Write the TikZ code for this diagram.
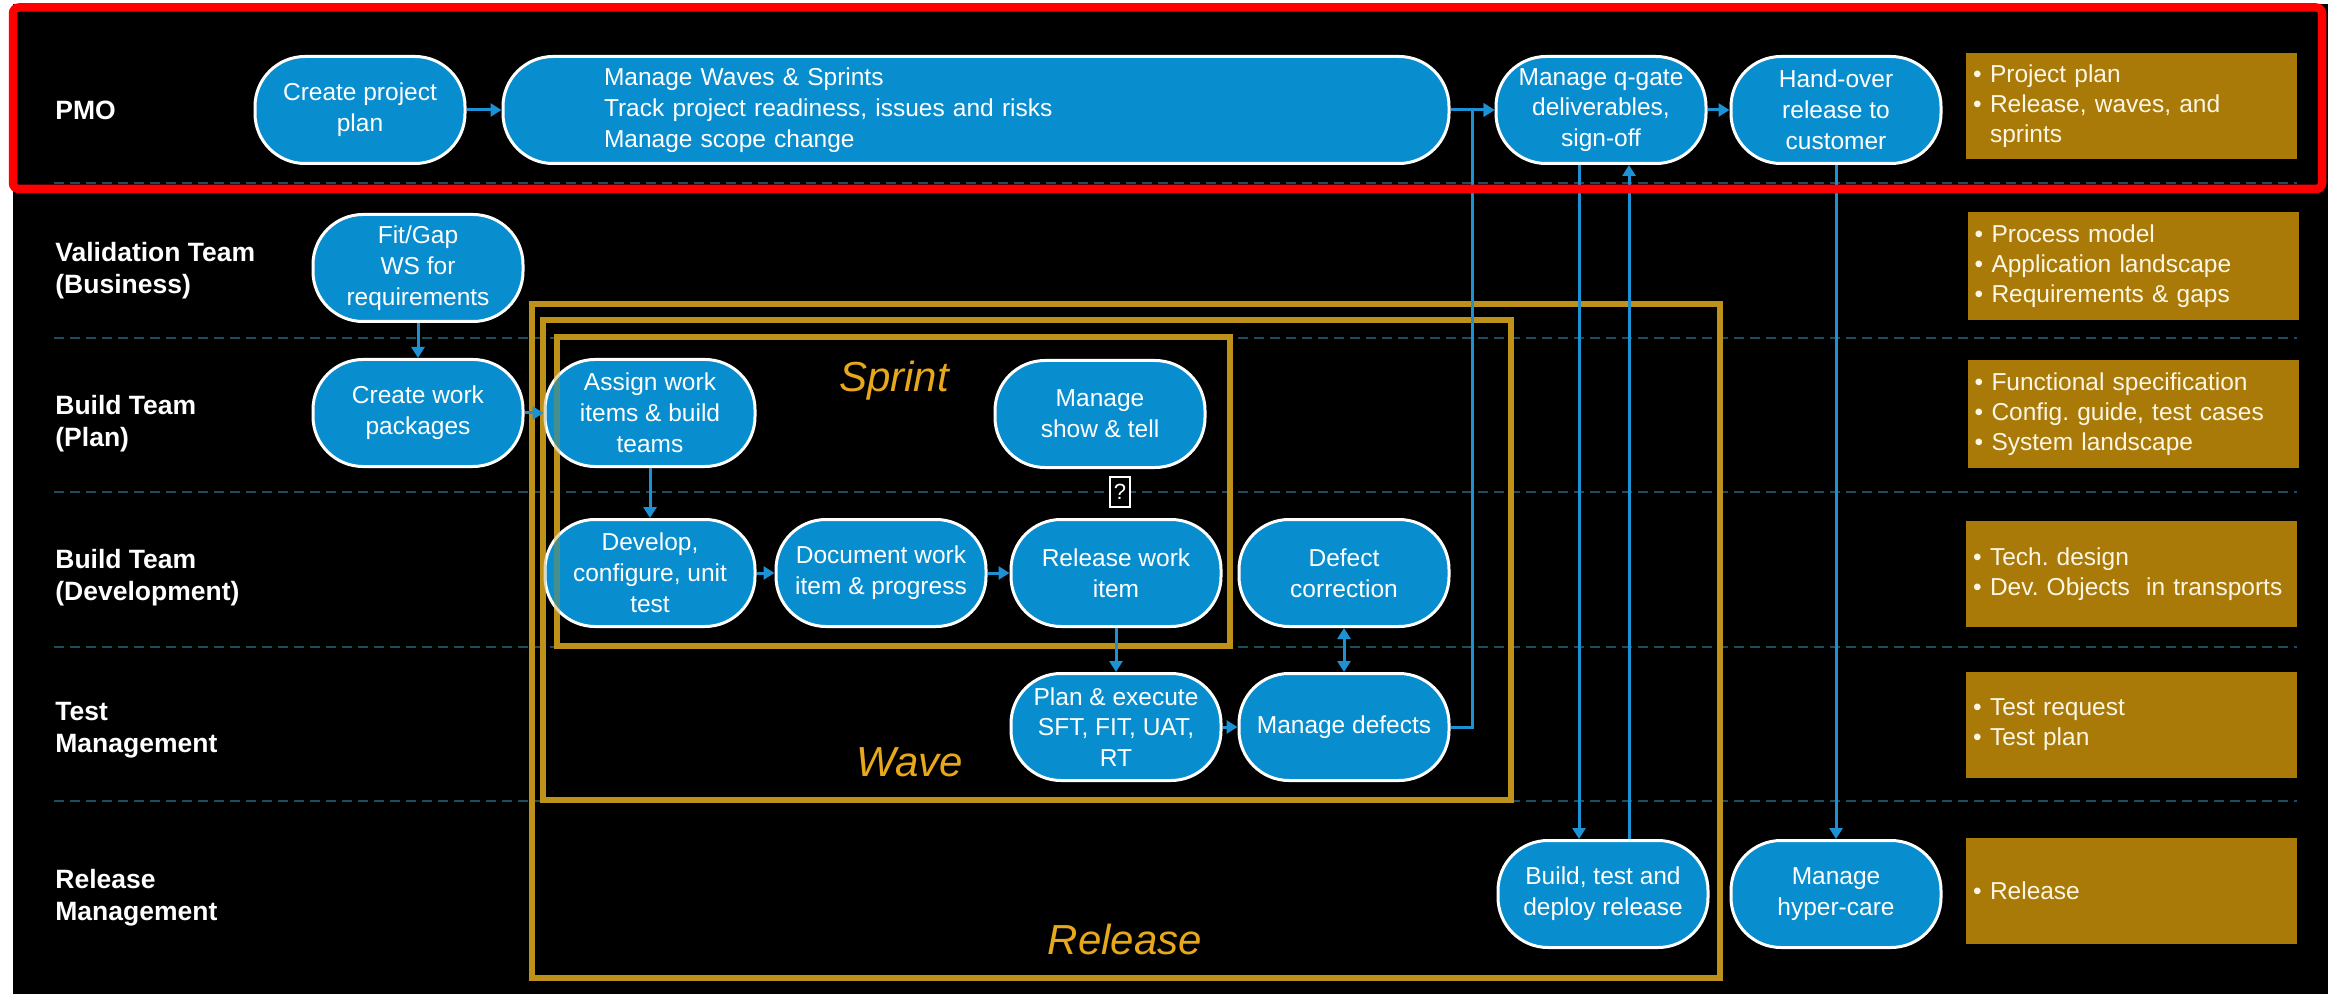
\documentclass[tikz,border=0pt]{standalone}
\usepackage{fontspec}
\setmainfont{Liberation Sans}
\usetikzlibrary{arrows.meta,calc}
\definecolor{nodeblue}{RGB}{8,141,207}
\definecolor{linkblue}{RGB}{28,145,212}
\definecolor{framegold}{RGB}{190,145,25}
\definecolor{labelgold}{RGB}{232,168,28}
\definecolor{boxtan}{RGB}{170,122,8}
\definecolor{tantext}{RGB}{252,246,228}
\definecolor{lanedash}{RGB}{28,78,98}
\newcommand\tbul{\makebox[8.5pt][l]{•}}
\frenchspacing
\begin{document}
\begin{tikzpicture}[x=0.5pt,y=-0.5pt,
  proc/.style={draw=white, line width=1.5pt, fill=nodeblue, rounded corners=25pt,
    minimum width=105pt, minimum height=53.5pt, inner sep=0pt, align=center,
    text=white, font=\fontsize{12.25pt}{15.4pt}\selectfont},
  lane/.style={anchor=west, align=left, text=white, inner sep=0pt,
    font=\bfseries\fontsize{13.25pt}{16pt}\selectfont},
  deliv/.style={fill=boxtan, text=tantext, minimum width=165.5pt, text width=158.5pt,
    inner xsep=3.5pt, inner ysep=0pt, align=left,
    font=\fontsize{12.25pt}{15pt}\selectfont},
  arr/.style={draw=linkblue, line width=1.5pt, -{Triangle[length=5.5pt,width=6.5pt]}},
  dbl/.style={draw=linkblue, line width=1.5pt, {Triangle[length=5.5pt,width=6.5pt]}-{Triangle[length=5.5pt,width=6.5pt]}},
  frame/.style={draw=framegold, line width=3.25pt},
  lbl/.style={text=labelgold, inner sep=0pt, font=\itshape\fontsize{21pt}{24pt}\selectfont},
  divider/.style={draw=lanedash, line width=1.2pt, dash pattern=on 5pt off 3pt}
]
% background
\fill[white] (0,0) rectangle (2328,994);
\fill[black] (13,4) rectangle (2328,994);
\useasboundingbox (0,0) rectangle (2328,994);

% lane dividers
\foreach \yy in {183,338,492,647,801} {\draw[divider] (54,\yy) -- (2297,\yy);}

% frames (below nodes)
\draw[frame] (532,304) rectangle (1720,978);
\draw[frame] (543,320) rectangle (1511,800);
\draw[frame] (557,337) rectangle (1230,646);

% lane labels
\node[lane] (lpmo) at (55,110) {PMO};
\node[lane] (lval) at (55,271) {Validation Team\\(Business)};
\node[lane] (lplan) at (55,424) {Build Team\\(Plan)};
\node[lane] (ldev) at (55,578) {Build Team\\(Development)};
\node[lane] (ltest) at (55,730) {Test\\Management};
\node[lane] (lrel) at (55,898) {Release\\Management};

% process nodes
\node[proc] (create) at (360,110) {Create project\\plan};
\node[proc, minimum width=473pt, text width=372pt, inner xsep=50.5pt, align=left] (waves) at (976,110)
  {Manage Waves \& Sprints\\Track project readiness, issues and risks\\Manage scope change};
\node[proc] (qgate) at (1601,110) {Manage q-gate\\deliverables,\\sign-off};
\node[proc] (handover) at (1836,110) {Hand-over\\release to\\customer};
\node[proc] (fitgap) at (418,268) {Fit/Gap\\WS for\\requirements};
\node[proc] (workpkg) at (418,413) {Create work\\packages};
\node[proc] (assign) at (650,413) {Assign work\\items \& build\\teams};
\node[proc] (showtell) at (1100,414) {Manage\\show \& tell};
\node[proc] (develop) at (650,573) {Develop,\\configure, unit\\test};
\node[proc] (document) at (881,573) {Document work\\item \& progress};
\node[proc] (releasewi) at (1116,573) {Release work\\item};
\node[proc] (defectcorr) at (1344,573) {Defect\\correction};
\node[proc] (plantest) at (1116,727) {Plan \& execute\\SFT, FIT, UAT,\\RT};
\node[proc] (defects) at (1344,727) {Manage defects};
\node[proc] (build) at (1603,894) {Build, test and\\deploy release};
\node[proc] (hypercare) at (1836,894) {Manage\\hyper-care};

% missing glyph box
\node[draw=white, fill=black, line width=0.8pt, minimum width=10pt, minimum height=15pt,
  inner sep=0pt, text=white, font=\fontsize{11pt}{12pt}\selectfont] (glyph) at (1120,492) {?};

% faint frame overlay on nodes
\draw[frame, draw opacity=0.35] (532,304) rectangle (1720,978);
\draw[frame, draw opacity=0.35] (543,320) rectangle (1511,800);
\draw[frame, draw opacity=0.35] (557,337) rectangle (1230,646);

% frame labels
\node[lbl] (sprintlbl) at (894,381) {Sprint};
\node[lbl] (wavelbl) at (910,762) {Wave};
\node[lbl] (releaselbl) at (1125,939) {Release};

% deliverable boxes
\node[deliv, minimum height=53pt] (d1) at (2131.5,106) {\raisebox{0pt}[\height][\depth]{}\tbul Project plan\\\tbul Release, waves, and\\\hspace*{8.5pt}sprints};
\node[deliv, minimum height=54pt] (d2) at (2133,266) {\tbul Process model\\\tbul Application landscape\\\tbul Requirements \& gaps};
\node[deliv, minimum height=54pt] (d3) at (2133,414) {\tbul Functional specification\\\tbul Config. guide, test cases\\\tbul System landscape};
\node[deliv, minimum height=53pt] (d4) at (2131.5,574) {\tbul Tech. design\\\tbul Dev. Objects\ \ in transports};
\node[deliv, minimum height=53pt] (d5) at (2131.5,725) {\tbul Test request\\\tbul Test plan};
\node[deliv, minimum height=53pt] (d6) at (2131.5,890.5) {\tbul Release};

% connectors
\draw[arr] (create) -- (waves);
\draw[arr] (waves) -- (qgate);
\draw[arr] (qgate) -- (handover);
\draw[arr] (fitgap) -- (workpkg);
\draw[arr] (workpkg) -- (assign);
\draw[arr] (assign) -- (develop);
\draw[arr] (develop) -- (document);
\draw[arr] (document) -- (releasewi);
\draw[arr] (releasewi) -- (plantest);
\draw[arr] (plantest) -- (defects);
\draw[dbl] (defectcorr) -- (defects);
\coordinate (jn) at ($(waves.east)!.5!(qgate.west)$);
\draw[arr] (defects.east) -| (jn) -- (qgate.west);
\coordinate (qa) at ($(qgate.south)+(-22,0)$);
\coordinate (qb) at ($(qgate.south)+(28,0)$);
\draw[arr] (qa) -- (qa |- build.north);
\draw[arr] (qb |- build.north) -- (qb);
\draw[arr] (handover) -- (hypercare);

% highlight rectangle
\draw[red, line width=4.25pt, rounded corners=3pt] (13,7.5) rectangle (2322,189);
\end{tikzpicture}
\end{document}
